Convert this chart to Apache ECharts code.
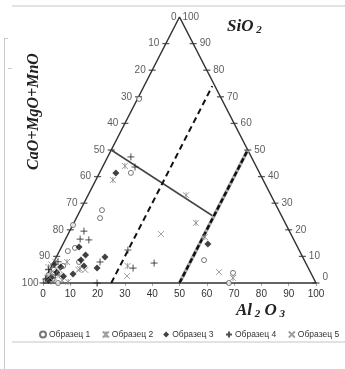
<!DOCTYPE html>
<html>
<head>
<meta charset="utf-8">
<script src="https://cdn.jsdelivr.net/npm/echarts@6/dist/echarts.min.js"></script>
<style>
  html, body { margin: 0; padding: 0; background: #fff; }
  #echarts { width: 345px; height: 369px; }
</style>
</head>
<body>
<div id="echarts"></div>
<script>
// plot coords: x = Al2O3 + SiO2 / 2, y = SiO2 (apex at 50,100)
const seriesNames = ["Образец 1", "Образец 2", "Образец 3", "Образец 4", "Образец 5"];

const sample1 = [[35.2, 69.2], [32.2, 41.4], [21.6, 27.4], [20.9, 24.4], [11, 21.8], [9.1, 12], [11.7, 13.2],
	[13.2, 7.9], [7.4, 6.4], [5.5, 0], [59, 8.6], [68.1, 0], [69.6, 3.8], [2, 3], [3.5, 1.5], [1, 1], [4, 5]];
const sample2 = [[30, 44], [25.6, 38.7], [8.8, 7.9], [13.5, 5.3], [9.2, 0.4], [31, 6.4], [52.4, 33], [56, 22.6],
	[59.3, 17.3], [69.6, 1.9], [2, 6], [3, 4], [6, 3], [1.5, 2], [4.5, 8], [7, 1]];
const sample3 = [[26.7, 41.4], [13.2, 13.5], [15.6, 10.5], [13.9, 8.6], [15, 6.4], [11, 3.4], [19.8, 5.6],
	[22.7, 9.8], [60.4, 14.7], [3, 2], [5, 4], [6.5, 6], [2, 1], [7.5, 2.5], [4, 7]];
const sample4 = [[32.2, 47.4], [33.7, 43.6], [15, 19.5], [13.6, 16.5], [16.8, 16.2], [20.9, 7.9], [31.1, 12.4],
	[33, 5.6], [40.7, 7.5], [19.8, 0], [2, 5], [4.5, 3], [1, 1.5], [5.5, 8]];
const sample5 = [[43.2, 18.4], [30.8, 2.6], [64.5, 4.1], [13, 4.9], [15.5, 4.9], [3, 7], [6, 5], [2.5, 2], [4, 0.5]];

const triangle = [[0, 0], [50, 100], [100, 0], [0, 0]];
const solidLine = [[25, 50], [62.5, 25]];
const dashLine = [[25, 0], [62, 74]];
const boldDashLine = [[50, 0], [75, 50]];

const leftTicks = [0, 10, 20, 30, 40, 50, 60, 70, 80, 90, 100];   // CaO+MgO+MnO
const rightTicks = [100, 90, 80, 70, 60, 50, 40, 30, 20, 10, 0];  // SiO2

const FONT = "Liberation Sans";
const SERIF = "Liberation Serif";

const dom = document.getElementById("echarts");
const myChart = echarts.init(dom, null, { renderer: "canvas", width: 345, height: 369 });

const leftTickData = leftTicks.map((c) => ({
	value: [(100 - c) / 2, 100 - c],
	label: { formatter: String(c), position: "left", distance: c === 100 ? 1 : 3 },
	symbolSize: c === 0 ? 0 : [7, 1.3],
}));
const rightTickData = rightTicks.map((s) => ({
	value: [100 - s / 2, s],
	label: { formatter: String(s), position: "right", distance: 3, offset: s === 0 ? [0, -6] : [0, 0] },
	symbolSize: s === 100 ? 0 : [7, 1.3],
}));

const pointSeries = (name, data, symbol, size, style) => ({
	name,
	type: "scatter",
	data,
	symbol,
	symbolSize: size,
	clip: false,
	itemStyle: style,
	z: 5,
});

const option = {
	animation: false,
	grid: { left: 43, right: 29, top: 17, bottom: 86 },
	xAxis: {
		type: "value",
		min: 0,
		max: 100,
		interval: 10,
		splitLine: { show: false },
		axisLine: { show: false },
		axisTick: { show: true, length: 3, lineStyle: { color: "#aaa" } },
		axisLabel: { fontSize: 10, color: "#333", fontFamily: FONT, margin: 6 },
	},
	yAxis: { type: "value", min: 0, max: 100, show: false },
	legend: {
		left: 39,
		top: 329,
		width: 306,
		padding: 0,
		itemWidth: 6,
		itemHeight: 6,
		itemGap: 10,
		textStyle: { fontSize: 8.5, color: "#333", fontFamily: FONT, padding: [0, 0, 0, -2] },
		data: seriesNames,
	},
	graphic: [
		{ type: "line", shape: { x1: 12, y1: 6, x2: 345, y2: 6 }, style: { stroke: "#e2e2e2", lineWidth: 2 } },
		{ type: "line", shape: { x1: 12, y1: 342, x2: 345, y2: 342 }, style: { stroke: "#e2e2e2", lineWidth: 2 } },
		{ type: "line", shape: { x1: 4.5, y1: 38, x2: 4.5, y2: 369 }, style: { stroke: "#c8c8c8", lineWidth: 1 } },
		{ type: "line", shape: { x1: 4, y1: 38.5, x2: 8, y2: 38.5 }, style: { stroke: "#c8c8c8", lineWidth: 1 } },
		{ type: "line", shape: { x1: 8, y1: 68.5, x2: 12, y2: 68.5 }, style: { stroke: "#c8c8c8", lineWidth: 1 } },
		{
			type: "text", left: 227, top: 18,
			style: {
				text: "{a|SiO}{b| 2}",
				rich: {
					a: { fontFamily: SERIF, fontStyle: "italic", fontWeight: "bold", fontSize: 17, fill: "#222" },
					b: { fontFamily: SERIF, fontStyle: "italic", fontWeight: "bold", fontSize: 11, fill: "#222", padding: [8, 0, 0, 0] },
				},
			},
		},
		{
			type: "text", left: 236, top: 302,
			style: {
				text: "{a|Al}{b| 2}{a| O}{b| 3}",
				rich: {
					a: { fontFamily: SERIF, fontStyle: "italic", fontWeight: "bold", fontSize: 17, fill: "#222" },
					b: { fontFamily: SERIF, fontStyle: "italic", fontWeight: "bold", fontSize: 11, fill: "#222", padding: [8, 0, 0, 0] },
				},
			},
		},
		{
			type: "text", x: 26, y: 170, rotation: Math.PI / 2,
			style: {
				text: "CaO+MgO+MnO",
				fontFamily: SERIF, fontStyle: "italic", fontWeight: "bold", fontSize: 16, fill: "#222",
			},
		},
	],
	series: [
		{
			type: "line", data: triangle, symbol: "none", silent: true, clip: false,
			lineStyle: { color: "#333", width: 1.5 }, z: 3,
		},
		{
			type: "line", data: solidLine, symbol: "none", silent: true, clip: false,
			lineStyle: { color: "#444", width: 1.5 }, z: 3,
		},
		{
			type: "line", data: dashLine, symbol: "none", silent: true, clip: false,
			lineStyle: { color: "#111", width: 2, type: [6, 4] }, z: 3,
		},
		{
			type: "line", data: boldDashLine, symbol: "none", silent: true, clip: false,
			lineStyle: { color: "#aaa", width: 3.5 }, z: 3,
		},
		{
			type: "line", data: boldDashLine, symbol: "none", silent: true, clip: false,
			lineStyle: { color: "#111", width: 2.5, type: [5, 2.5] }, z: 3,
		},
		{
			type: "scatter", data: leftTickData, symbol: "rect", silent: true, clip: false,
			itemStyle: { color: "#333" }, z: 4,
			label: { show: true, fontSize: 10, color: "#333", fontFamily: FONT },
		},
		{
			type: "scatter", data: rightTickData, symbol: "rect", silent: true, clip: false,
			itemStyle: { color: "#333" }, z: 4,
			label: { show: true, fontSize: 10, color: "#333", fontFamily: FONT },
		},
		pointSeries(seriesNames[0], sample1, "circle", 5, { color: "#fff", borderColor: "#555", borderWidth: 1 }),
		pointSeries(seriesNames[1], sample2, "path://M0,0L10,10M10,0L0,10M5,0L5,10", 6,
			{ color: "none", borderColor: "#888", borderWidth: 1 }),
		pointSeries(seriesNames[2], sample3, "diamond", 7, { color: "#111" }),
		pointSeries(seriesNames[3], sample4, "path://M5,0L5,10M0,5L10,5", 7,
			{ color: "none", borderColor: "#222", borderWidth: 1 }),
		pointSeries(seriesNames[4], sample5, "path://M0,0L10,10M10,0L0,10", 6,
			{ color: "none", borderColor: "#888", borderWidth: 1 }),
	],
};
myChart.setOption(option);
</script>
</body>
</html>
